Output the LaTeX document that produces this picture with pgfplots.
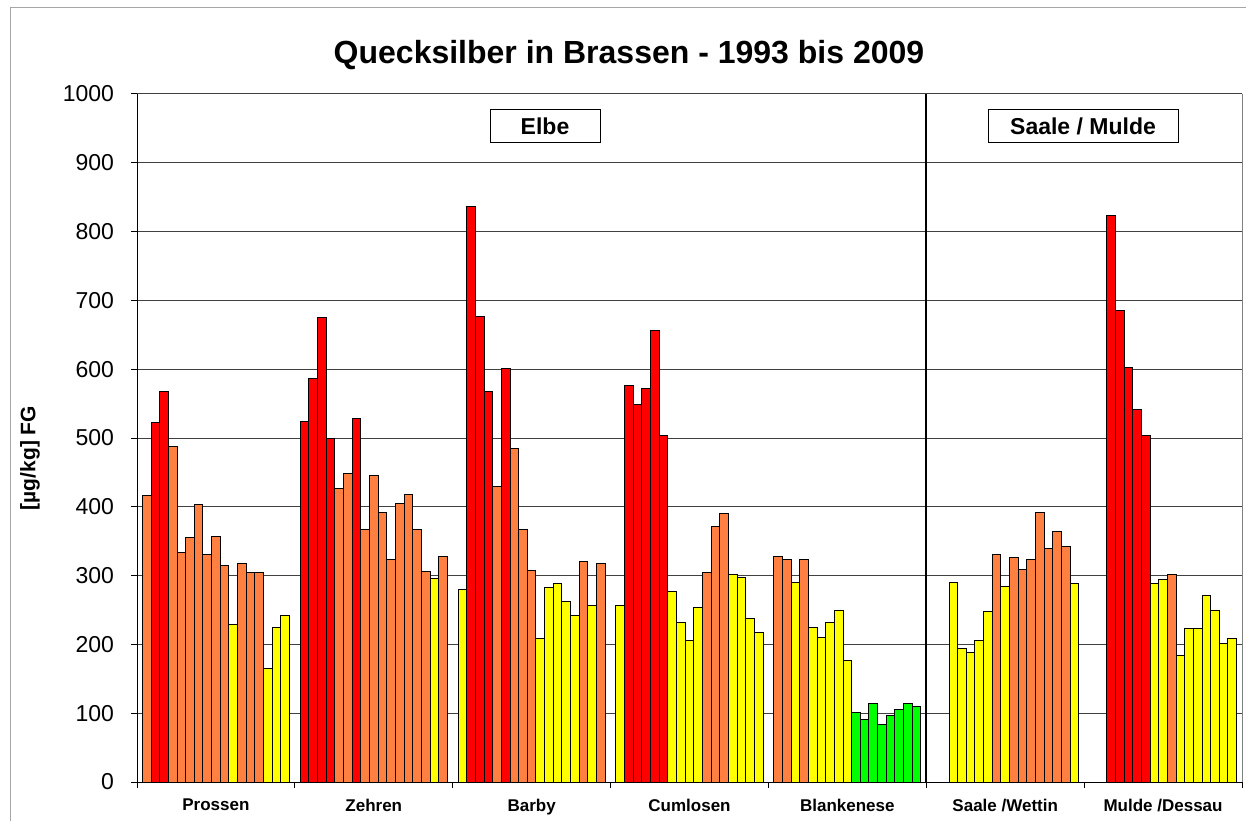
\documentclass[border=0pt]{standalone}
\usepackage{fontspec}
\setmainfont{Liberation Sans}
\usepackage{pgfplots}
\usepackage{pgfplotstable}
\pgfplotsset{compat=1.18}

\definecolor{hgrot}{RGB}{255,0,0}
\definecolor{hgorange}{RGB}{255,128,64}
\definecolor{hggelb}{RGB}{255,255,0}
\definecolor{hggruen}{RGB}{0,255,0}

% g = Messstelle (0 Prossen ... 6 Mulde/Dessau), i = Jahr - 1993, v = Hg [ug/kg FG]
\pgfplotstableread{
g i v
0 1 522
0 2 568
1 0 524
1 1 587
1 2 675
1 3 500
1 6 528
2 1 836
2 2 677
2 3 568
2 5 601
3 1 577
3 2 549
3 3 572
3 4 656
3 5 503
6 2 823
6 3 685
6 4 603
6 5 542
6 6 503
}\rot

\pgfplotstableread{
g i v
0 0 417
0 3 488
0 4 333
0 5 355
0 6 403
0 7 330
0 8 357
0 9 315
0 11 317
0 12 304
0 13 304
1 4 426
1 5 449
1 7 367
1 8 446
1 9 392
1 10 323
1 11 405
1 12 418
1 13 367
1 14 306
1 16 328
2 4 430
2 6 485
2 7 367
2 8 307
2 14 321
2 16 317
3 10 305
3 11 372
3 12 390
4 0 328
4 1 324
4 3 324
5 7 330
5 9 326
5 10 309
5 11 324
5 12 391
5 13 340
5 14 364
5 15 342
6 9 302
}\orange

\pgfplotstableread{
g i v
0 10 229
0 14 165
0 15 225
0 16 242
1 15 296
2 0 280
2 9 208
2 10 282
2 11 288
2 12 263
2 13 242
2 15 256
3 0 256
3 6 277
3 7 232
3 8 206
3 9 253
3 13 302
3 14 297
3 15 238
3 16 217
4 2 290
4 4 225
4 5 210
4 6 232
4 7 250
4 8 177
5 2 290
5 3 194
5 4 188
5 5 206
5 6 248
5 8 284
5 16 288
6 7 288
6 8 295
6 10 184
6 11 223
6 12 223
6 13 271
6 14 249
6 15 201
6 16 208
}\gelb

\pgfplotstableread{
g i v
4 9 101
4 10 91
4 11 114
4 12 83
4 13 97
4 14 106
4 15 114
4 16 110
}\gruen

\begin{document}
\begin{tikzpicture}
\useasboundingbox (0,0) rectangle (623pt,410pt);
\draw[gray!70, line width=0.5pt] (5pt,-10pt) -- (5pt,406pt) -- (640pt,406pt);

\begin{axis}[
    at={(68.5pt,19pt)}, anchor=south west,
    scale only axis, width=552.5pt, height=344pt,
    xmin=-1.125, xmax=126.625, ymin=0, ymax=1000,
    ytick={0,100,...,1000},
    xtick={-1.125,17.125,35.375,53.625,71.875,90.125,108.375,126.625},
    xticklabels={},
    extra x ticks={8,26.25,44.5,62.75,81,99.25,117.5},
    extra x tick labels={Prossen,Zehren,Barby,Cumlosen,Blankenese,Saale /Wettin,Mulde /Dessau},
    extra x tick style={major tick length=0pt, grid=none,
        xticklabel style={font=\bfseries\fontsize{8.5}{10}\selectfont, yshift=-5pt}},
    ymajorgrids, grid style={black!75, line width=0.5pt},
    axis x line*=bottom, axis y line*=left,
    xtick pos=bottom, ytick pos=left,
    axis line style={black, line width=0.5pt},
    tick style={black, line width=0.5pt},
    tick align=outside, major tick length=3pt,
    yticklabel style={font=\fontsize{11.5}{13}\selectfont, xshift=-5pt,
        /pgf/number format/1000 sep={}},
    /pgf/number format/assume math mode=true,
    every axis plot/.append style={ybar, bar width=1, bar shift=0pt, draw=black, line width=0.5pt},
    clip=false,
]
\addplot[fill=hgrot] table[x expr=\thisrow{g}*18.25+\thisrow{i}, y=v] {\rot};
\addplot[fill=hgorange] table[x expr=\thisrow{g}*18.25+\thisrow{i}, y=v] {\orange};
\addplot[fill=hggelb] table[x expr=\thisrow{g}*18.25+\thisrow{i}, y=v] {\gelb};
\addplot[fill=hggruen] table[x expr=\thisrow{g}*18.25+\thisrow{i}, y=v] {\gruen};

% Trennlinie Elbe | Saale/Mulde
\draw[black, line width=1pt] (axis cs:90.125,0) -- (axis cs:90.125,1000);
\draw[gray, line width=0.5pt] (rel axis cs:1,0) -- (rel axis cs:1,1);
\end{axis}

\node[font=\bfseries\fontsize{16}{19}\selectfont] at (314.5pt,382.5pt) {Quecksilber in Brassen - 1993 bis 2009};
\node[draw=black, line width=0.5pt, fill=white, minimum width=55pt, minimum height=16.5pt, inner sep=0pt,
      font=\bfseries\fontsize{11.5}{14}\selectfont] at (272.5pt,346.75pt) {Elbe};
\node[draw=black, line width=0.5pt, fill=white, minimum width=95pt, minimum height=16.5pt, inner sep=0pt,
      font=\bfseries\fontsize{11.5}{14}\selectfont] at (541.5pt,346.75pt) {Saale / Mulde};
\node[rotate=90, font=\bfseries\fontsize{10.5}{12}\selectfont] at (15pt,181pt) {[µg/kg] FG};
\end{tikzpicture}
\end{document}
